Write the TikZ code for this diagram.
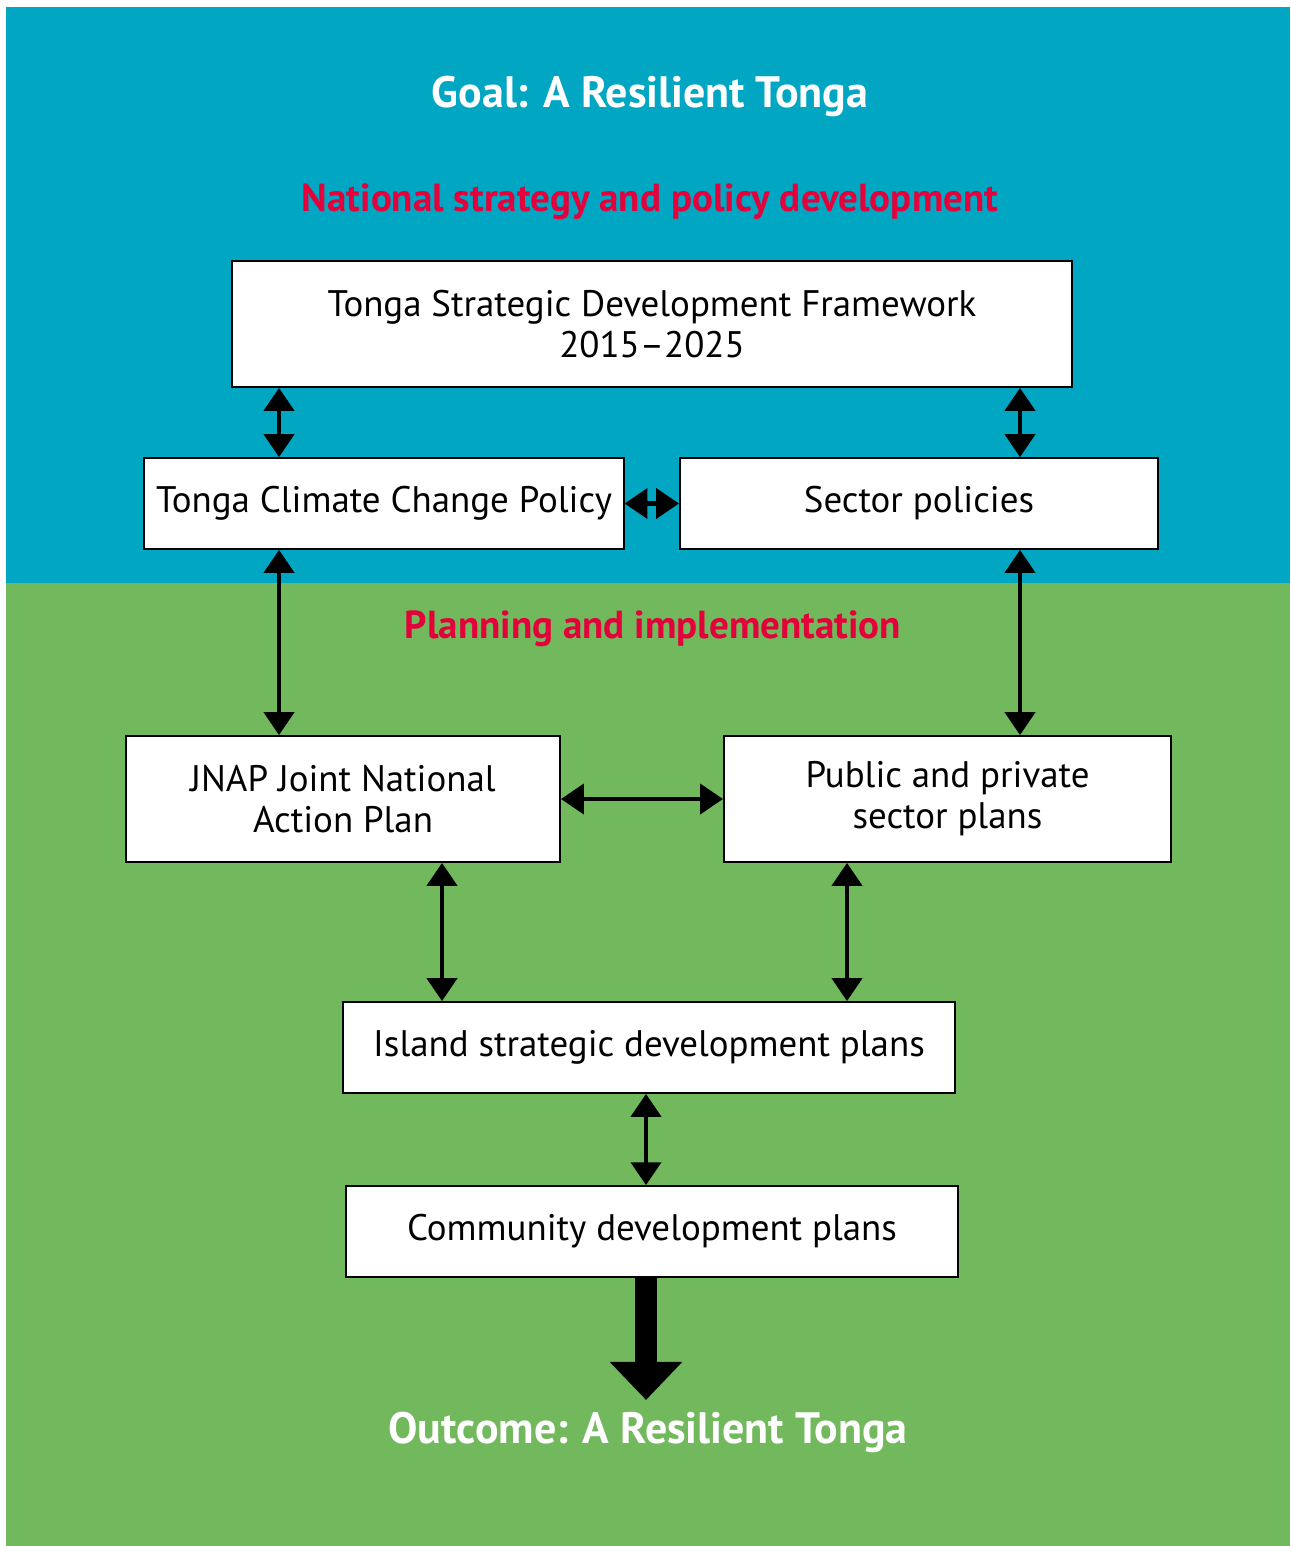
\documentclass[tikz,border=0pt]{standalone}
\usepackage{fontspec}
\setmainfont{PT Sans}
\usetikzlibrary{arrows.meta,positioning,calc}
\definecolor{goalblue}{RGB}{0,166,194}
\definecolor{planngreen}{RGB}{114,184,92}
\definecolor{headred}{RGB}{228,0,58}
\tikzset{
  planbox/.style={draw=black,line width=0.5pt,fill=white,align=center,font=\fontsize{10.5}{11.6}\selectfont},
  twoway/.style={{Triangle[length=6.5pt,width=8.5pt]}-{Triangle[length=6.5pt,width=8.5pt]},line width=1.2pt},
  whitehead/.style={text=white,font=\bfseries\fontsize{12.5}{15}\selectfont},
  redhead/.style={text=headred,font=\bfseries\fontsize{11.1}{14}\selectfont}
}
\begin{document}
\begin{tikzpicture}[x=0.01cm,y=-0.01cm]
  \useasboundingbox (0,0) rectangle (1290,1546);
  % backgrounds
  \fill[goalblue] (6,7) rectangle (1290,583);
  \fill[planngreen] (6,583) rectangle (1290,1546);
  % headings
  \node[whitehead] (goal) at (650,96) {Goal: A Resilient Tonga};
  \node[redhead] (nat) at (650,202) {National strategy and policy development};
  \node[redhead] (plan) at (653,629) {Planning and implementation};
  \node[whitehead] (outcome) at (648,1432) {Outcome: A Resilient Tonga};
  % boxes
  \node[planbox,minimum width=8.4cm,minimum height=1.26cm] (tsdf) at (652,324)
    {Tonga Strategic Development Framework\\2015--2025};
  \node[planbox,minimum width=4.78cm,minimum height=0.91cm] (tccp) at (384,503.5)
    {\raisebox{-0.6pt}{Tonga Climate Change Policy}};
  \node[planbox,minimum width=4.78cm,minimum height=0.91cm] (sector) at (919,503.5)
    {\raisebox{-0.6pt}{Sector policies}};
  \node[planbox,minimum width=4.34cm,minimum height=1.26cm] (jnap) at (343,799)
    {JNAP Joint National\\Action Plan};
  \node[planbox,minimum width=4.47cm,minimum height=1.26cm] (public) at (947.5,799)
    {Public and private\\sector plans};
  \node[planbox,minimum width=6.12cm,minimum height=0.91cm] (island) at (649,1047.5)
    {\raisebox{-0.6pt}{Island strategic development plans}};
  \node[planbox,minimum width=6.12cm,minimum height=0.91cm] (community) at (652,1231.5)
    {\raisebox{-0.6pt}{Community development plans}};
  % arrow columns
  \coordinate (lx) at (279,0);
  \coordinate (rx) at (1020,0);
  \coordinate (jx) at (442,0);
  \coordinate (px) at (847,0);
  \coordinate (cx) at (646,0);
  \coordinate (end) at (646,1400);
  % connectors
  \draw[twoway] (tsdf.south -| lx) -- (tccp.north -| lx);
  \draw[twoway] (tsdf.south -| rx) -- (sector.north -| rx);
  \draw[twoway] (tccp.east) -- (sector.west);
  \draw[twoway] (tccp.south -| lx) -- (jnap.north -| lx);
  \draw[twoway] (sector.south -| rx) -- (public.north -| rx);
  \draw[twoway] (jnap.east) -- (public.west);
  \draw[twoway] (jnap.south -| jx) -- (island.north -| jx);
  \draw[twoway] (public.south -| px) -- (island.north -| px);
  \draw[twoway] (island.south -| cx) -- (community.north -| cx);
  \draw[line width=0.22cm,-{Triangle[length=0.38cm,width=0.7cm]}] (community.south -| cx) -- (end);
\end{tikzpicture}
\end{document}
